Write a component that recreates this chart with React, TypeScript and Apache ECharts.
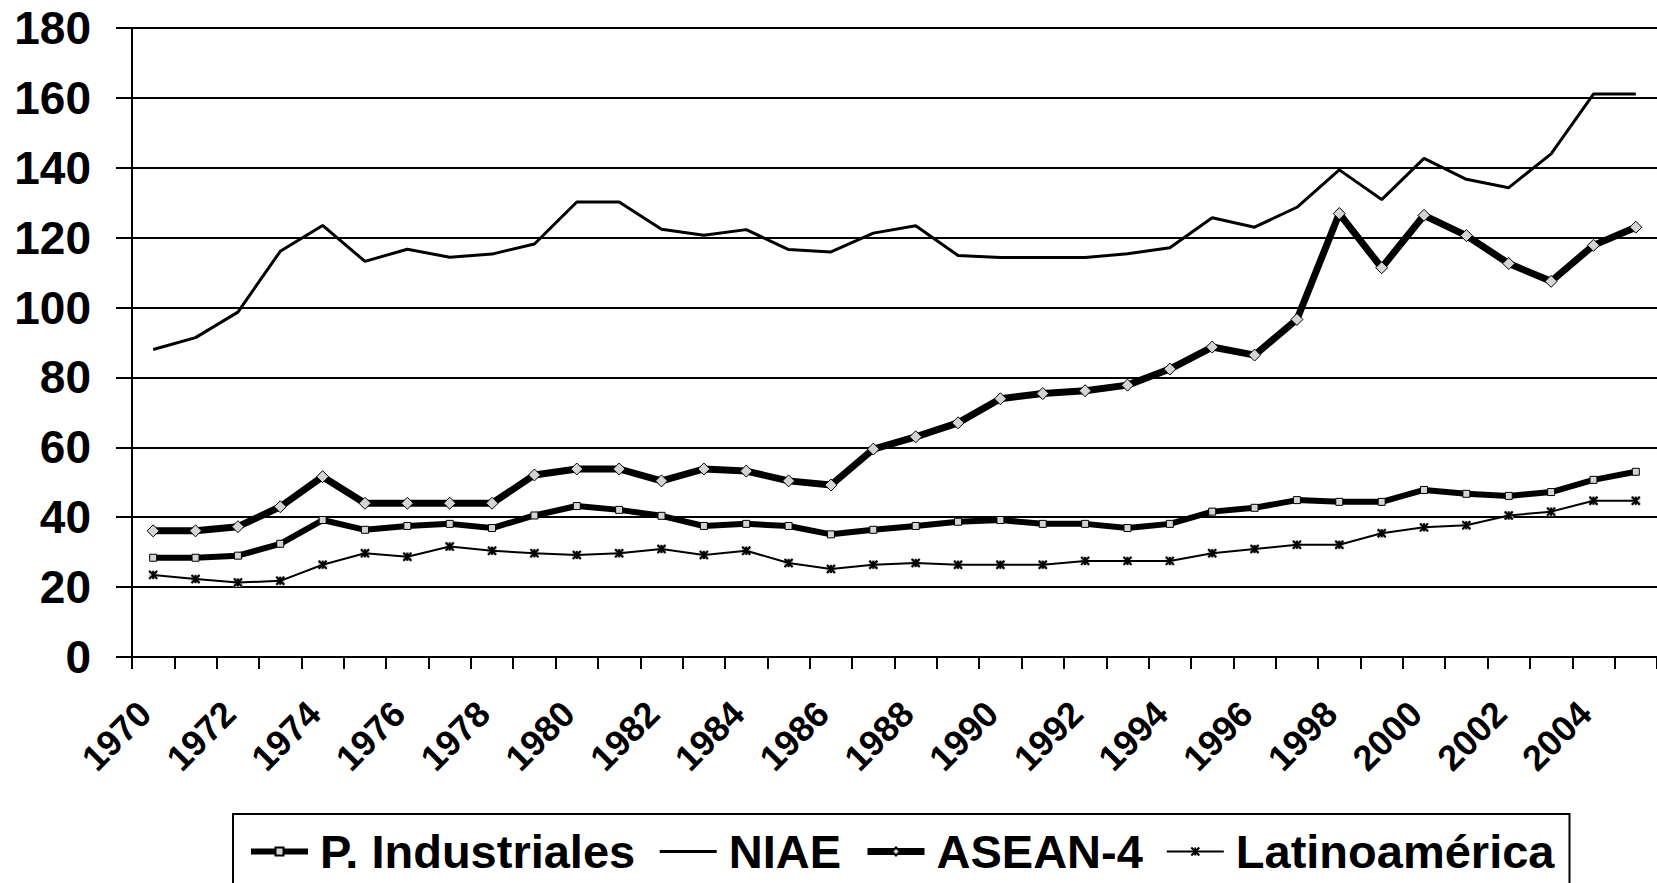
import React, { useEffect, useRef } from "react";
import * as echarts from "echarts";

const years: string[] = [
  "1970","1971","1972","1973","1974","1975","1976","1977","1978","1979",
  "1980","1981","1982","1983","1984","1985","1986","1987","1988","1989",
  "1990","1991","1992","1993","1994","1995","1996","1997","1998","1999",
  "2000","2001","2002","2003","2004","2005",
];

const pIndustriales: number[] = [
  28.4, 28.4, 29.0, 32.4, 39.2, 36.4, 37.5, 38.1, 36.9, 40.5,
  43.2, 42.1, 40.4, 37.5, 38.1, 37.5, 35.1, 36.4, 37.5, 38.7,
  39.2, 38.1, 38.1, 36.9, 38.1, 41.6, 42.7, 44.9, 44.4, 44.4,
  47.8, 46.7, 46.1, 47.2, 50.7, 53.0,
];

const niae: number[] = [
  88.0, 91.4, 98.7, 116.1, 123.5, 113.2, 116.7, 114.4, 115.3, 118.2,
  130.2, 130.2, 122.4, 120.7, 122.3, 116.6, 115.9, 121.3, 123.4, 114.9,
  114.3, 114.3, 114.3, 115.4, 117.1, 125.7, 123.0, 128.7, 139.4, 130.9,
  142.7, 136.7, 134.3, 144.0, 161.1, 161.1,
];

const asean4: number[] = [
  36.1, 36.1, 37.3, 43.0, 51.6, 44.0, 44.0, 44.0, 44.0, 52.1,
  53.8, 53.8, 50.4, 53.8, 53.2, 50.4, 49.2, 59.5, 63.0, 67.0,
  73.9, 75.4, 76.2, 77.8, 82.4, 88.7, 86.4, 96.6, 126.9, 111.4,
  126.4, 120.6, 112.6, 107.5, 117.8, 123.0,
];

const latinoamerica: number[] = [
  23.5, 22.3, 21.3, 21.8, 26.4, 29.7, 28.7, 31.6, 30.4, 29.7,
  29.2, 29.7, 30.9, 29.2, 30.4, 26.9, 25.2, 26.4, 26.9, 26.4,
  26.4, 26.4, 27.5, 27.5, 27.5, 29.7, 30.9, 32.1, 32.1, 35.4,
  37.1, 37.7, 40.5, 41.6, 44.7, 44.7,
];

const seriesNames: string[] = ["P. Industriales", "NIAE", "ASEAN-4", "Latinoamérica"];

const FONT = "'Liberation Sans', Arial, sans-serif";
const ASTERISK = "path://M0,0L10,10M10,0L0,10M5,0L5,10";

export default function App() {
  const ref = useRef<HTMLDivElement>(null);

  useEffect(() => {
    if (!ref.current) return;
    const chart = echarts.init(ref.current, null, { renderer: "svg" });
    chart.setOption({
      animation: false,
      backgroundColor: "#fff",
      grid: { left: 132, right: -12, top: 28, bottom: 226, containLabel: false },
      legend: {
        data: [
          { name: seriesNames[0] },
          { name: seriesNames[1], itemStyle: { color: "rgba(0,0,0,0)", borderWidth: 0, opacity: 0 } },
          { name: seriesNames[2] },
          { name: seriesNames[3] },
        ],
        left: 233,
        top: 814,
        orient: "horizontal",
        selectedMode: false,
        borderColor: "#000",
        borderWidth: 2,
        padding: [14, 15, 40, 15],
        itemWidth: 57,
        itemHeight: 10,
        itemGap: 23,
        lineStyle: { width: "inherit" },
        textStyle: {
          fontFamily: FONT,
          fontWeight: "bold",
          fontSize: 47,
          color: "#000",
          padding: [0, 0, 0, 7],
        },
      },
      xAxis: {
        type: "category",
        data: years,
        boundaryGap: true,
        axisLine: { lineStyle: { color: "#000", width: 2 } },
        axisTick: { show: true, interval: 0, length: 12, lineStyle: { color: "#000", width: 2 } },
        axisLabel: {
          interval: 1,
          rotate: 45,
          margin: 42,
          padding: [0, 12, 0, 0],
          fontFamily: FONT,
          fontWeight: "bold",
          fontSize: 36,
          color: "#000",
        },
        splitLine: { show: false },
      },
      yAxis: {
        type: "value",
        min: 0,
        max: 180,
        interval: 20,
        axisLine: { show: true, lineStyle: { color: "#000", width: 2 } },
        axisTick: { show: true, length: 16, lineStyle: { color: "#000", width: 2 } },
        axisLabel: {
          margin: 41,
          fontFamily: FONT,
          fontWeight: "bold",
          fontSize: 46,
          color: "#000",
        },
        splitLine: { show: true, lineStyle: { color: "#000", width: 2 } },
      },
      series: [
        {
          name: "P. Industriales",
          type: "line",
          data: pIndustriales,
          symbol: "rect",
          symbolSize: 7,
          showSymbol: true,
          lineStyle: { color: "#000", width: 6 },
          itemStyle: { color: "#d4d4d4", borderColor: "#000", borderWidth: 1 },
          z: 3,
        },
        {
          name: "NIAE",
          type: "line",
          data: niae,
          symbol: "none",
          lineStyle: { color: "#000", width: 3 },
          itemStyle: { color: "#000" },
          z: 3,
        },
        {
          name: "ASEAN-4",
          type: "line",
          data: asean4,
          symbol: "diamond",
          symbolSize: 12,
          showSymbol: true,
          lineStyle: { color: "#000", width: 7 },
          itemStyle: { color: "#d4d4d4", borderColor: "#000", borderWidth: 1 },
          z: 4,
        },
        {
          name: "Latinoamérica-bg",
          type: "line",
          data: latinoamerica,
          symbol: "rect",
          symbolSize: 9,
          showSymbol: true,
          lineStyle: { width: 0, opacity: 0 },
          itemStyle: { color: "#c8c8c8", borderWidth: 0 },
          z: 2,
          silent: true,
        },
        {
          name: "Latinoamérica",
          type: "line",
          data: latinoamerica,
          symbol: ASTERISK,
          symbolSize: 8,
          showSymbol: true,
          lineStyle: { color: "#000", width: 2 },
          itemStyle: { color: "none", borderColor: "#000", borderWidth: 2 },
          z: 3,
        },
      ],
    });
    return () => chart.dispose();
  }, []);

  return (
    <div
      ref={ref}
      style={{ position: "absolute", left: 0, top: 0, width: 1657, height: 883, overflow: "hidden" }}
    />
  );
}
